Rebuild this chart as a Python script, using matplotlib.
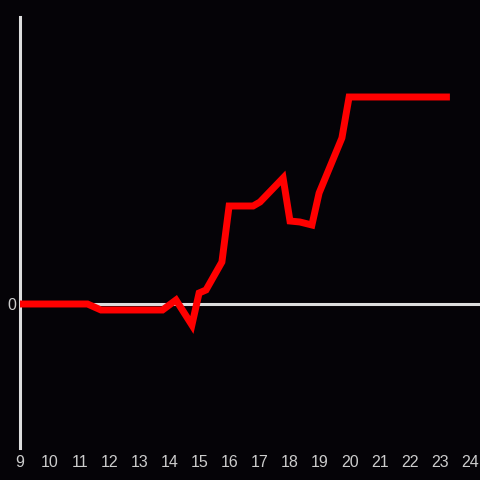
import matplotlib
matplotlib.use("Agg")
import matplotlib.pyplot as plt

# hours of the day and the value at each hour (arbitrary units)
hours = [9, 11.25, 11.7, 13.75, 14.2, 14.73, 14.97, 15.2, 15.73, 15.97,
         16.77, 17.0, 17.77, 18.0, 18.33, 18.73, 18.97, 19.73, 19.97, 23.33]
values = [0, 0, -0.6, -0.6, 0.4, -2.1, 1.1, 1.4, 4.2, 9.8,
          9.8, 10.2, 12.6, 8.3, 8.2, 7.9, 11.1, 16.6, 20.7, 20.7]
xticks = list(range(9, 25))

bg = "#050307"
axis_col = "#dddddd"

fig = plt.figure(figsize=(4.8, 4.8), dpi=100, facecolor=bg)
ax = fig.add_axes([20 / 480, 32 / 480, 460 / 480, 431 / 480])
ax.set_facecolor(bg)

ax.axhline(0, color=axis_col, lw=2.2, zorder=1)
ax.plot(hours, values, color="#ff0000", lw=5, solid_joinstyle="miter",
        solid_capstyle="butt", zorder=3)

ax.set_xlim(9, 9 + 460 / 30)
ax.set_ylim(-14.4, 28.7)

for s in ["top", "right", "bottom"]:
    ax.spines[s].set_visible(False)
ax.spines["left"].set_color(axis_col)
ax.spines["left"].set_linewidth(2.2)

ax.set_xticks(xticks)
ax.set_xticklabels([str(t) for t in xticks])
ax.set_yticks([0])
ax.set_yticklabels(["0"])
ax.tick_params(axis="both", length=0, colors="#cccccc", labelsize=11.5)
ax.tick_params(axis="x", pad=5)
ax.tick_params(axis="y", pad=3)
for lab in ax.get_xticklabels() + ax.get_yticklabels():
    lab.set_fontfamily("Liberation Sans")

fig.savefig("out.png", dpi=100, facecolor=bg)
